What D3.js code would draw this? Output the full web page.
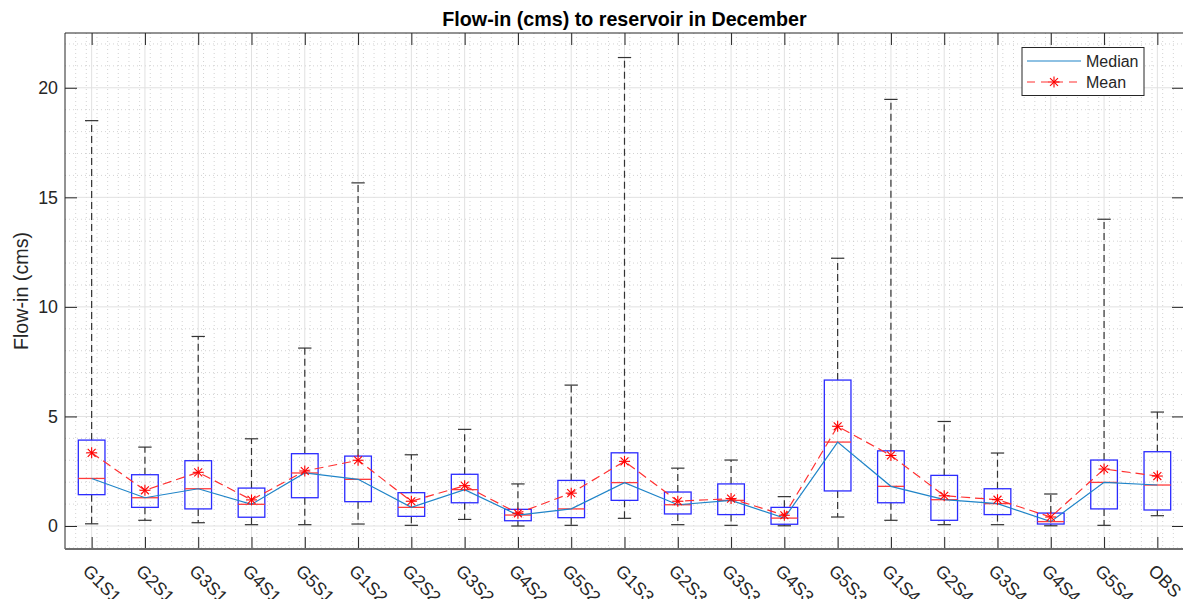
<!DOCTYPE html>
<html>
<head>
<meta charset="utf-8">
<script src="https://cdn.jsdelivr.net/npm/d3@7"></script>
<style>
  html, body { margin: 0; padding: 0; background: #fff; }
  svg { display: block; font-family: "Liberation Sans", Arial, Helvetica, sans-serif; }
</style>
</head>
<body>
<svg id="chart" width="1183" height="599"></svg>
<script>
// ---- Data ----
const categories = ["G1S1","G2S1","G3S1","G4S1","G5S1","G1S2","G2S2","G3S2","G4S2","G5S2",
                    "G1S3","G2S3","G3S3","G4S3","G5S3","G1S4","G2S4","G3S4","G4S4","G5S4","OBS"];
const whiskerLow  = [0.10,0.26,0.15,0.06,0.06,0.09,0.03,0.30,0.00,0.03,0.35,0.06,0.03,0.01,0.41,0.26,0.06,0.06,0.01,0.03,0.47];
const q1          = [1.43,0.85,0.78,0.40,1.29,1.11,0.44,1.06,0.24,0.38,1.17,0.55,0.52,0.08,1.60,1.06,0.26,0.52,0.09,0.78,0.73];
const medians     = [2.17,1.29,1.70,0.99,2.42,2.13,0.85,1.66,0.50,0.78,1.98,0.97,1.17,0.36,3.83,1.81,1.20,1.02,0.20,1.99,1.87];
const q3          = [3.92,2.34,2.98,1.73,3.30,3.19,1.52,2.36,0.76,2.08,3.34,1.55,1.92,0.85,6.66,3.43,2.31,1.70,0.59,3.01,3.39];
const whiskerHigh = [18.5,3.60,8.65,3.98,8.12,15.66,3.25,4.41,1.92,6.43,21.38,2.64,3.01,1.34,12.22,19.47,4.77,3.33,1.46,14.0,5.20];
const means       = [3.34,1.63,2.45,1.19,2.51,3.00,1.13,1.84,0.58,1.50,2.95,1.13,1.25,0.49,4.55,3.22,1.38,1.20,0.41,2.60,2.28];
const yTicks = [0, 5, 10, 15, 20];
const titleText = "Flow-in (cms) to reservoir in December";
const yLabelText = "Flow-in (cms)";
const legendLabels = ["Median", "Mean"];

// ---- Layout ----
const L = 65, R = 1184, T = 33, B = 549;
const svg = d3.select("#chart");
const x = d3.scaleLinear().domain([0.5, categories.length + 0.5]).range([L, R]);
const y = d3.scaleLinear().domain([-1.05, 22.5]).range([B, T]);
const unit = x(2) - x(1);
const axisColor = "#262626";
const tickFont = 17.8, labelFont = 19.7;

const rows = categories.map((c, i) => ({
  c, i: i + 1, lo: whiskerLow[i], q1: q1[i], med: medians[i], q3: q3[i], hi: whiskerHigh[i], mean: means[i]
}));

// ---- Grids ----
const grid = svg.append("g");
// minor grid
const minorX = d3.range(1, 106).map(k => 0.5 + k * 0.2).filter(v => Math.abs(v - Math.round(v)) > 0.01 && v < categories.length + 0.5);
const minorY = d3.range(-1, 23).filter(v => v % 5 !== 0);
grid.selectAll(".mx").data(minorX).join("line")
  .attr("x1", d => x(d)).attr("x2", d => x(d)).attr("y1", T).attr("y2", B)
  .attr("stroke", "#c8c8c8").attr("stroke-width", 0.8).attr("stroke-dasharray", "1,3");
grid.selectAll(".my").data(minorY).join("line")
  .attr("x1", L).attr("x2", R).attr("y1", d => y(d)).attr("y2", d => y(d))
  .attr("stroke", "#c8c8c8").attr("stroke-width", 0.8).attr("stroke-dasharray", "1,3");
// major grid
grid.selectAll(".gx").data(rows).join("line")
  .attr("x1", d => x(d.i)).attr("x2", d => x(d.i)).attr("y1", T).attr("y2", B)
  .attr("stroke", "#e1e1e1").attr("stroke-width", 1);
grid.selectAll(".gy").data(yTicks).join("line")
  .attr("x1", L).attr("x2", R).attr("y1", d => y(d)).attr("y2", d => y(d))
  .attr("stroke", "#e1e1e1").attr("stroke-width", 1);

// ---- Box plots ----
const boxes = svg.append("g");
const bw = 0.5 * unit, cw = 0.25 * unit;
// whiskers (dashed)
boxes.selectAll(".wu").data(rows).join("line")
  .attr("x1", d => x(d.i)).attr("x2", d => x(d.i)).attr("y1", d => y(d.q3)).attr("y2", d => y(d.hi))
  .attr("stroke", "#333").attr("stroke-width", 1.2).attr("stroke-dasharray", "7,4");
boxes.selectAll(".wl").data(rows).join("line")
  .attr("x1", d => x(d.i)).attr("x2", d => x(d.i)).attr("y1", d => y(d.q1)).attr("y2", d => y(d.lo))
  .attr("stroke", "#333").attr("stroke-width", 1.2).attr("stroke-dasharray", "7,4");
// caps
boxes.selectAll(".cu").data(rows).join("line")
  .attr("x1", d => x(d.i) - cw / 2).attr("x2", d => x(d.i) + cw / 2).attr("y1", d => y(d.hi)).attr("y2", d => y(d.hi))
  .attr("stroke", "#333").attr("stroke-width", 1.2);
boxes.selectAll(".cl").data(rows).join("line")
  .attr("x1", d => x(d.i) - cw / 2).attr("x2", d => x(d.i) + cw / 2).attr("y1", d => y(d.lo)).attr("y2", d => y(d.lo))
  .attr("stroke", "#333").attr("stroke-width", 1.2);
// boxes
boxes.selectAll(".bx").data(rows).join("rect")
  .attr("x", d => x(d.i) - bw / 2).attr("width", bw)
  .attr("y", d => y(d.q3)).attr("height", d => y(d.q1) - y(d.q3))
  .attr("fill", "none").attr("stroke", "#2b2bff").attr("stroke-width", 1.3);
// medians in boxes
boxes.selectAll(".md").data(rows).join("line")
  .attr("x1", d => x(d.i) - bw / 2).attr("x2", d => x(d.i) + bw / 2).attr("y1", d => y(d.med)).attr("y2", d => y(d.med))
  .attr("stroke", "#ff3b3b").attr("stroke-width", 1.3);

// ---- Median line ----
const line = d3.line().x(d => x(d.i));
svg.append("path").datum(rows)
  .attr("d", line.y(d => y(d.med)))
  .attr("fill", "none").attr("stroke", "#1f84c8").attr("stroke-width", 1.2);

// ---- Mean line with star markers ----
svg.append("path").datum(rows)
  .attr("d", d3.line().x(d => x(d.i)).y(d => y(d.mean)))
  .attr("fill", "none").attr("stroke", "#ff3030").attr("stroke-width", 1.2).attr("stroke-dasharray", "9,5");

function star(g, cx, cy, r) {
  const s = g.append("g").attr("transform", `translate(${cx},${cy})`)
    .attr("stroke", "#ff0000").attr("stroke-width", 1.1);
  s.append("line").attr("x1", -r).attr("x2", r).attr("y1", 0).attr("y2", 0);
  s.append("line").attr("x1", 0).attr("x2", 0).attr("y1", -r).attr("y2", r);
  const k = r * 0.72;
  s.append("line").attr("x1", -k).attr("x2", k).attr("y1", -k).attr("y2", k);
  s.append("line").attr("x1", -k).attr("x2", k).attr("y1", k).attr("y2", -k);
}
const stars = svg.append("g");
rows.forEach(d => star(stars, x(d.i), y(d.mean), 5.5));

// ---- Axes ----
const xAxisB = d3.axisBottom(x).tickValues(rows.map(d => d.i)).tickSize(-12).tickFormat(() => "");
const xAxisT = d3.axisTop(x).tickValues(rows.map(d => d.i)).tickSize(-12).tickFormat(() => "");
const yAxisL = d3.axisLeft(y).tickValues(yTicks).tickSize(-12).tickPadding(7);
const yAxisR = d3.axisRight(y).tickValues(yTicks).tickSize(-12).tickFormat(() => "");

function styleAxis(g) {
  g.select(".domain").remove();
  g.selectAll(".tick line").attr("stroke", axisColor).attr("stroke-width", 1);
  g.selectAll(".tick text").attr("fill", axisColor).style("font-size", tickFont + "px")
    .style("font-family", '"Liberation Sans", Arial, Helvetica, sans-serif');
}
svg.append("g").attr("transform", `translate(0,${B})`).call(xAxisB).call(styleAxis);
svg.append("g").attr("transform", `translate(0,${T})`).call(xAxisT).call(styleAxis);
svg.append("g").attr("transform", `translate(${L},0)`).call(yAxisL).call(styleAxis);
svg.append("g").attr("transform", `translate(${R},0)`).call(yAxisR).call(styleAxis);

// frame
svg.append("line").attr("x1", L).attr("x2", R).attr("y1", T).attr("y2", T).attr("stroke", axisColor).attr("stroke-width", 1);
svg.append("line").attr("x1", R).attr("x2", R).attr("y1", T).attr("y2", B).attr("stroke", axisColor).attr("stroke-width", 1);
svg.append("line").attr("x1", L).attr("x2", L).attr("y1", T).attr("y2", B).attr("stroke", axisColor).attr("stroke-width", 1);
svg.append("line").attr("x1", L).attr("x2", R).attr("y1", B).attr("y2", B).attr("stroke", "#6e6e6e").attr("stroke-width", 1.8);

// x tick labels, rotated
svg.append("g").selectAll("text").data(rows).join("text")
  .attr("transform", d => `translate(${x(d.i) - 10},${572}) rotate(45)`)
  .attr("text-anchor", "start")
  .attr("fill", axisColor)
  .style("font-size", tickFont + "px")
  .text(d => d.c);

// title and y label
svg.append("text").attr("x", (L + R) / 2).attr("y", 26).attr("text-anchor", "middle")
  .attr("fill", "#000").style("font-size", labelFont + "px").style("font-weight", "bold").text(titleText);
svg.append("text").attr("transform", `translate(28,${(T + B) / 2}) rotate(-90)`).attr("text-anchor", "middle")
  .attr("fill", axisColor).style("font-size", labelFont + "px").text(yLabelText);

// ---- Legend ----
const lg = svg.append("g");
lg.append("rect").attr("x", 1022).attr("y", 47.5).attr("width", 122).attr("height", 48)
  .attr("fill", "#fff").attr("stroke", axisColor).attr("stroke-width", 1);
lg.append("line").attr("x1", 1027).attr("x2", 1081).attr("y1", 61).attr("y2", 61)
  .attr("stroke", "#1f84c8").attr("stroke-width", 1.2);
lg.append("line").attr("x1", 1027).attr("x2", 1081).attr("y1", 82).attr("y2", 82)
  .attr("stroke", "#ff3030").attr("stroke-width", 1.2).attr("stroke-dasharray", "8,6");
star(lg, 1054, 82, 5.5);
lg.selectAll(".lt").data(legendLabels).join("text")
  .attr("x", 1086).attr("y", (d, i) => 61 + i * 21).attr("dy", "0.35em")
  .attr("fill", axisColor).style("font-size", "16px").text(d => d);
</script>
</body>
</html>
